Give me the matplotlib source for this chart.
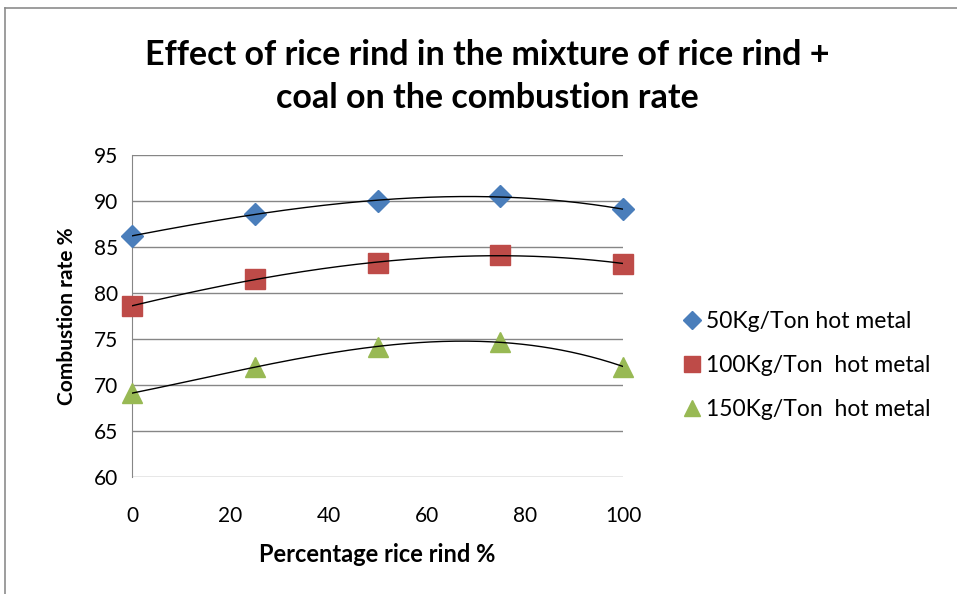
import numpy as np
import matplotlib.pyplot as plt
from matplotlib.lines import Line2D

plt.rcParams['font.family'] = ['Lato', 'DejaVu Sans']

rind = [0, 25, 50, 75, 100]
rate_50 = [86.2, 88.6, 90.0, 90.5, 89.1]
rate_100 = [78.6, 81.5, 83.3, 84.1, 83.2]
rate_150 = [69.1, 72.0, 74.1, 74.7, 72.0]

labels = ['50Kg/Ton hot metal', '100Kg/Ton  hot metal', '150Kg/Ton  hot metal']
colors = ['#4a7ebb', '#be4b48', '#98b954']
markers = ['D', 's', '^']
sizes = [11, 14, 14]

fig = plt.figure(figsize=(9.57, 5.94), dpi=100)
ax = fig.add_axes([0.138, 0.197, 0.513, 0.542])

# outer chart border (only left and top visible)
fig.add_artist(Line2D([5/957, 5/957], [0, 1 - 8/594], transform=fig.transFigure, color='#8c8c8c', lw=1.2))
fig.add_artist(Line2D([5/957, 1], [1 - 8/594, 1 - 8/594], transform=fig.transFigure, color='#8c8c8c', lw=1.2))

xs = np.linspace(0, 100, 200)
for ys, c, m, s, lab in zip([rate_50, rate_100, rate_150], colors, markers, sizes, labels):
    ax.plot(rind, ys, linestyle='none', marker=m, markersize=s, color=c, label=lab, zorder=3, clip_on=False)
    coef = np.polyfit(rind, ys, 3)
    ax.plot(xs, np.polyval(coef, xs), color='black', lw=1, zorder=4)

ax.set_xlim(0, 100)
ax.set_ylim(60, 95)
ax.set_xticks(range(0, 101, 20))
ax.set_yticks(range(60, 96, 5))
ax.grid(axis='y', color='#868686', lw=1)
ax.set_axisbelow(True)
for sp in ['top', 'right', 'bottom']:
    ax.spines[sp].set_visible(False)
ax.spines['left'].set_color('#868686')
ax.tick_params(axis='both', length=0, labelsize=15, pad=10)
ax.tick_params(axis='x', pad=21)
ax.set_xlabel('Percentage rice rind %', fontsize=17, fontweight='bold', labelpad=12)
ax.set_ylabel('Combustion rate %', fontsize=15, fontweight='bold', labelpad=12)

fig.text(0.509, 0.871, 'Effect of rice rind in the mixture of rice rind +\ncoal on the combustion rate',
         ha='center', va='center', fontsize=24.5, fontweight='bold', linespacing=1.4)

handles = [Line2D([], [], linestyle='none', marker=m, color=c, markersize=s * 0.85)
           for c, m, s in zip(colors, markers, sizes)]
fig.legend(handles, labels, loc='center left', bbox_to_anchor=(0.69, 0.384),
           frameon=False, fontsize=16.5, handletextpad=0.1, labelspacing=1.0, handlelength=1.0)

fig.savefig('out.png', dpi=100)
